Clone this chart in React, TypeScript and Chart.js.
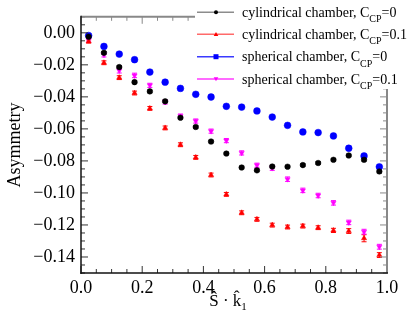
import React, { useEffect, useRef } from 'react';
import { Chart, registerables } from 'chart.js';

Chart.register(...registerables);

// ---- data ----
const xBins = [0.025, 0.075, 0.125, 0.175, 0.225, 0.275, 0.325, 0.375, 0.425, 0.475, 0.525, 0.575, 0.625, 0.675, 0.725, 0.775, 0.825, 0.875, 0.925, 0.975];

const cylCP0 = [-0.0025, -0.0125, -0.0214, -0.0308, -0.0366, -0.0428, -0.053, -0.0588, -0.0679, -0.0754, -0.0841, -0.0859, -0.0835, -0.0836, -0.0826, -0.0813, -0.0793, -0.0766, -0.0793, -0.0866];
const cylCP01 = [-0.0054, -0.0187, -0.028, -0.0376, -0.0472, -0.0594, -0.0699, -0.0778, -0.0888, -0.1009, -0.1124, -0.1165, -0.1201, -0.1213, -0.1207, -0.1217, -0.1234, -0.1238, -0.1283, -0.1388];
const sphCP0 = [-0.0017, -0.0085, -0.0133, -0.0168, -0.0245, -0.0308, -0.0347, -0.0384, -0.0401, -0.0459, -0.0464, -0.0488, -0.0526, -0.0578, -0.0619, -0.0623, -0.0644, -0.0721, -0.0769, -0.0837];
const sphCP01 = [-0.0045, -0.0137, -0.0235, -0.0266, -0.0328, -0.0432, -0.052, -0.0551, -0.0614, -0.0673, -0.075, -0.0827, -0.0845, -0.0914, -0.0984, -0.1016, -0.1062, -0.1184, -0.1242, -0.1336];

const cylCP0Err = [0.0008, 0.0008, 0.0008, 0.0008, 0.0008, 0.0008, 0.0008, 0.0008, 0.0008, 0.0008, 0.0008, 0.0008, 0.0008, 0.0008, 0.0008, 0.0008, 0.0008, 0.0008, 0.0008, 0.0009];
const cylCP01Err = [0.001, 0.0012, 0.0012, 0.0012, 0.0012, 0.0012, 0.0012, 0.0012, 0.0012, 0.0012, 0.0012, 0.0012, 0.0012, 0.0012, 0.0012, 0.0012, 0.0013, 0.0015, 0.0022, 0.0015];
const sphCP0Err = [0.0008, 0.0008, 0.0008, 0.0008, 0.0008, 0.0008, 0.0008, 0.0008, 0.0008, 0.0008, 0.0008, 0.0008, 0.0008, 0.0008, 0.0008, 0.0008, 0.0008, 0.0009, 0.0009, 0.001];
const sphCP01Err = [0.0012, 0.0014, 0.0016, 0.0014, 0.0013, 0.0013, 0.0013, 0.0013, 0.0013, 0.0013, 0.0013, 0.0013, 0.0014, 0.0014, 0.0014, 0.0014, 0.0014, 0.0014, 0.0015, 0.0015];

const legendMain = ['cylindrical chamber, C', 'cylindrical chamber, C', 'spherical chamber, C', 'spherical chamber, C'];
const legendSub = ['CP', 'CP', 'CP', 'CP'];
const legendTail = ['=0', '=0.1', '=0', '=0.1'];

const xTickValues = [0, 0.2, 0.4, 0.6, 0.8, 1.0];
const yTickValues = [0, -0.02, -0.04, -0.06, -0.08, -0.1, -0.12, -0.14];
const yTitle = 'Asymmetry';

// ---- styles ----
const FONT = '"Liberation Serif", "Times New Roman", serif';
const seriesColors = ['#000000', '#ff0000', '#0000ff', '#ff00ff'];
const legendLineColors = ['#8c8c8c', '#ff6a6a', '#3a3aff', '#ff3aff'];
const pointStyles: any[] = ['circle', 'triangle', 'circle', 'triangle'];
const pointRotations = [0, 0, 0, 180];
const pointRadii = [2.8, 3.0, 3.4, 3.0];

const seriesValues = [cylCP0, cylCP01, sphCP0, sphCP01];
const seriesErrors = [cylCP0Err, cylCP01Err, sphCP0Err, sphCP01Err];

const customPlugin = {
  id: 'rootStyle',
  beforeDatasetsDraw(chart: any) {
    const ctx = chart.ctx;
    const xs = chart.scales.x;
    const ys = chart.scales.y;
    ctx.save();
    ctx.lineWidth = 1;
    seriesValues.forEach((vals, i) => {
      ctx.strokeStyle = seriesColors[i];
      vals.forEach((v, j) => {
        const e = seriesErrors[i][j];
        const px = xs.getPixelForValue(xBins[j]);
        const y1 = ys.getPixelForValue(v - e);
        const y2 = ys.getPixelForValue(v + e);
        ctx.beginPath();
        ctx.moveTo(px, y1);
        ctx.lineTo(px, y2);
        ctx.moveTo(px - 2.5, y1);
        ctx.lineTo(px + 2.5, y1);
        ctx.moveTo(px - 2.5, y2);
        ctx.lineTo(px + 2.5, y2);
        ctx.stroke();
      });
    });
    ctx.restore();
  },
  afterDatasetsDraw(chart: any) {
    const ctx = chart.ctx;
    const { left, right, top, bottom } = chart.chartArea;
    const xs = chart.scales.x;
    const ys = chart.scales.y;
    ctx.save();
    const drawTick = (x1: number, y1: number, x2: number, y2: number, c: string, w: number) => {
      ctx.strokeStyle = c;
      ctx.lineWidth = w;
      ctx.beginPath();
      ctx.moveTo(x1, y1);
      ctx.lineTo(x2, y2);
      ctx.stroke();
    };
    for (let k = 0; k <= 20; k++) {
      const v = k * 0.05;
      const px = xs.getPixelForValue(v);
      const len = k % 4 === 0 ? 7 : 4;
      drawTick(px, bottom, px, bottom - len, '#333', 1);
      drawTick(px, top, px, top + len, '#888', 1);
    }
    for (let k = -30; k <= 2; k++) {
      const v = k * 0.005;
      const py = ys.getPixelForValue(v);
      if (py < top - 0.5 || py > bottom + 0.5) continue;
      const len = k % 4 === 0 ? 7 : 4;
      drawTick(left, py, left + len, py, '#333', 1);
      drawTick(right, py, right - len, py, '#888', 1);
    }
    drawTick(left, top, right, top, '#888', 2);
    drawTick(right, top, right, bottom, '#888', 2);
    drawTick(left, top - 1, left, bottom + 1, '#111', 1.5);
    drawTick(left - 0.5, bottom, right + 1, bottom, '#111', 1.5);
    ctx.restore();
  },
  afterDraw(chart: any) {
    const ctx = chart.ctx;
    ctx.save();
    ctx.fillStyle = '#000';
    ctx.font = `18px ${FONT}`;
    ctx.textAlign = 'center';
    ctx.textBaseline = 'middle';
    ctx.translate(15, 145);
    ctx.rotate(-Math.PI / 2);
    ctx.fillText(yTitle, 0, 0);
    ctx.restore();

    // x title: S-hat dot k-hat subscript 1
    ctx.save();
    ctx.fillStyle = '#000';
    ctx.textBaseline = 'alphabetic';
    ctx.textAlign = 'left';
    ctx.font = `17px ${FONT}`;
    const main = '\u015C \u00B7 k\u0302';
    const mw = ctx.measureText(main).width;
    ctx.font = `11px ${FONT}`;
    const sw = ctx.measureText('1').width;
    const startX = 228 - (mw + sw) / 2;
    ctx.font = `17px ${FONT}`;
    ctx.fillText(main, startX, 306);
    ctx.font = `11px ${FONT}`;
    ctx.fillText('1', startX + mw, 310);
    ctx.restore();

    // legend
    ctx.save();
    ctx.fillStyle = '#fff';
    ctx.fillRect(195, 0, 214, 89);
    const rowsY = [12.3, 34.3, 56.7, 79];
    rowsY.forEach((ry, i) => {
      ctx.strokeStyle = legendLineColors[i];
      ctx.lineWidth = 1.5;
      ctx.beginPath();
      ctx.moveTo(197, ry);
      ctx.lineTo(234, ry);
      ctx.stroke();
      ctx.fillStyle = seriesColors[i];
      ctx.beginPath();
      if (i === 0) {
        ctx.arc(216, ry, 2, 0, Math.PI * 2);
      } else if (i === 2) {
        ctx.rect(213.5, ry - 2.5, 5, 5);
      } else if (i === 1) {
        ctx.moveTo(216, ry - 2.2);
        ctx.lineTo(218.3, ry + 1.8);
        ctx.lineTo(213.7, ry + 1.8);
        ctx.closePath();
      } else {
        ctx.moveTo(216, ry + 2.2);
        ctx.lineTo(218.3, ry - 1.8);
        ctx.lineTo(213.7, ry - 1.8);
        ctx.closePath();
      }
      ctx.fill();
      ctx.fillStyle = '#000';
      ctx.textBaseline = 'alphabetic';
      ctx.textAlign = 'left';
      ctx.font = `14px ${FONT}`;
      const tx = 242;
      const by = ry + 4.6;
      ctx.fillText(legendMain[i], tx, by);
      const w1 = ctx.measureText(legendMain[i]).width;
      ctx.font = `10px ${FONT}`;
      ctx.fillText(legendSub[i], tx + w1, by + 5.5);
      const w2 = ctx.measureText(legendSub[i]).width;
      ctx.font = `14px ${FONT}`;
      ctx.fillText(legendTail[i], tx + w1 + w2, by);
    });
    ctx.restore();
  },
};

export default function App() {
  const ref = useRef<HTMLCanvasElement>(null);
  useEffect(() => {
    document.body.style.margin = '0';
    const canvas = ref.current!;
    const datasets = seriesValues.map((vals, i) => ({
      label: legendMain[i] + legendSub[i] + legendTail[i],
      data: vals.map((v, j) => ({ x: xBins[j], y: v })),
      showLine: false,
      pointStyle: pointStyles[i],
      rotation: pointRotations[i],
      pointRadius: pointRadii[i],
      pointBackgroundColor: seriesColors[i],
      pointBorderColor: seriesColors[i],
      pointBorderWidth: 0.5,
    }));
    const chart = new Chart(canvas, {
      type: 'scatter',
      data: { datasets },
      plugins: [customPlugin],
      options: {
        animation: false,
        responsive: false,
        devicePixelRatio: 1,
        layout: { padding: { left: 0, top: 16, right: 22, bottom: 0 } },
        plugins: { legend: { display: false }, tooltip: { enabled: false }, title: { display: false } },
        scales: {
          x: {
            type: 'linear',
            min: 0,
            max: 1,
            grid: { display: false, drawTicks: false },
            border: { display: false },
            afterBuildTicks: (s: any) => { s.ticks = xTickValues.map((v) => ({ value: v })); },
            afterFit: (s: any) => { s.height = 57; },
            ticks: {
              padding: 4,
              color: '#000',
              font: { family: FONT, size: 18 },
              maxRotation: 0,
              autoSkip: false,
              callback: (v: any) => Number(v).toFixed(1),
            },
          },
          y: {
            type: 'linear',
            min: -0.15,
            max: 0.01,
            grid: { display: false, drawTicks: false },
            border: { display: false },
            afterBuildTicks: (s: any) => { s.ticks = yTickValues.map((v) => ({ value: v })); },
            afterFit: (s: any) => { s.width = 81; },
            ticks: {
              padding: 6,
              color: '#000',
              font: { family: FONT, size: 18 },
              autoSkip: false,
              callback: (v: any) => {
                const n = Number(v);
                const s = Math.abs(n).toFixed(2);
                return n < -1e-9 ? '\u2212' + s : s;
              },
            },
          },
        },
      },
    } as any);
    return () => chart.destroy();
  }, []);
  return (
    <div style={{ position: 'absolute', left: 0, top: 0, width: 409, height: 330, background: '#fff' }}>
      <canvas ref={ref} width={409} height={330} style={{ display: 'block', width: 409, height: 330 }} />
    </div>
  );
}
